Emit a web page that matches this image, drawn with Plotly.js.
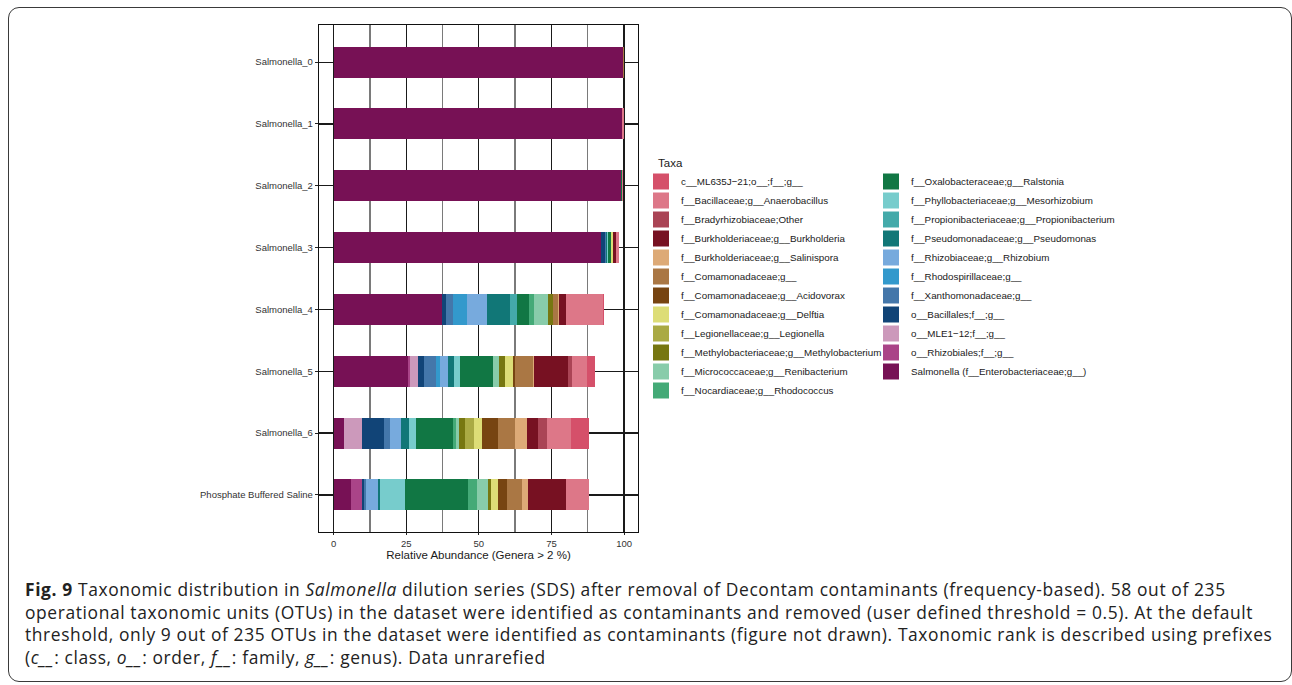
<!DOCTYPE html>
<html>
<head>
<meta charset="utf-8">
<script src="https://cdn.plot.ly/plotly-3.0.1.min.js"></script>
<style>
  html, body { margin: 0; padding: 0; background: #ffffff; }
  #wrap { position: relative; width: 1292px; height: 685px; overflow: hidden; }
  #chart { position: absolute; left: 0; top: 0; width: 1292px; height: 685px; }
  #frame { position: absolute; left: 8px; top: 7px; width: 1284px; height: 675px;
           border: 1.5px solid #3a3a3a; border-radius: 11px; box-sizing: border-box; pointer-events: none; }
  #chart g.annotation[data-index="0"] text.annotation-text { letter-spacing: 0.62px; }
</style>
</head>
<body>
<div id="wrap">
  <div id="chart"></div>
  <div id="frame"></div>
</div>
<script>
// ---- Data ----
const categories = ['Salmonella_0', 'Salmonella_1', 'Salmonella_2', 'Salmonella_3',
                    'Salmonella_4', 'Salmonella_5', 'Salmonella_6', 'Phosphate Buffered Saline'];

const taxa = [
  'c__ML635J\u221221;o__;f__;g__',
  'f__Bacillaceae;g__Anaerobacillus',
  'f__Bradyrhizobiaceae;Other',
  'f__Burkholderiaceae;g__Burkholderia',
  'f__Burkholderiaceae;g__Salinispora',
  'f__Comamonadaceae;g__',
  'f__Comamonadaceae;g__Acidovorax',
  'f__Comamonadaceae;g__Delftia',
  'f__Legionellaceae;g__Legionella',
  'f__Methylobacteriaceae;g__Methylobacterium',
  'f__Micrococcaceae;g__Renibacterium',
  'f__Nocardiaceae;g__Rhodococcus',
  'f__Oxalobacteraceae;g__Ralstonia',
  'f__Phyllobacteriaceae;g__Mesorhizobium',
  'f__Propionibacteriaceae;g__Propionibacterium',
  'f__Pseudomonadaceae;g__Pseudomonas',
  'f__Rhizobiaceae;g__Rhizobium',
  'f__Rhodospirillaceae;g__',
  'f__Xanthomonadaceae;g__',
  'o__Bacillales;f__;g__',
  'o__MLE1\u221212;f__;g__',
  'o__Rhizobiales;f__;g__',
  'Salmonella (f__Enterobacteriaceae;g__)'
];

const taxaColors = [
  '#D5506A', '#DD7788', '#AA4455', '#771122', '#DDAA77', '#AA7744', '#774411', '#DDDD77',
  '#AAAA44', '#777711', '#88CCAA', '#44AA77', '#117744', '#77CCCC', '#44AAAA', '#117777',
  '#77AADD', '#3399CC', '#4477AA', '#114477', '#CC99BB', '#AA4488', '#771155'
];

// relative abundance (%) per sample, in the order of `taxa`
const salmonella0 = [0, 0, 0, 0, 0, 0.4, 0, 0, 0, 0, 0, 0, 0, 0, 0, 0, 0, 0, 0, 0, 0, 0, 99.5];
const salmonella1 = [0, 0.45, 0, 0, 0, 0, 0, 0, 0, 0, 0, 0, 0, 0, 0, 0, 0, 0, 0, 0, 0, 0, 99.4];
const salmonella2 = [0, 0.5, 0, 0, 0, 0, 0, 0, 0, 0, 0, 0, 0.4, 0, 0, 0, 0, 0, 0, 0, 0, 0, 98.8];
const salmonella3 = [0, 1.26, 0, 0.8, 0, 0.23, 0, 0.46, 0, 0, 0, 0, 1.03, 0.34, 0, 0.57, 0, 0, 0.23, 1.26, 0, 0, 92.2];
const salmonella4 = [0.23, 12.84, 0, 2.41, 0.34, 1.72, 0, 0, 0, 1.83, 4.7, 1.72, 4.13, 0, 2.41, 7.91, 6.88, 4.82, 2.41, 1.38, 0, 0, 37.3];
const salmonella5 = [2.75, 5.16, 1.38, 11.7, 0.34, 6.19, 0.69, 2.75, 0, 2.06, 1.95, 0, 11.47, 2.06, 0, 2.06, 2.75, 1.38, 4.13, 2.06, 2.75, 0.69, 25.6];
const salmonella6 = [6.19, 8.26, 3.1, 3.78, 4.13, 5.85, 5.5, 2.75, 3.1, 2.06, 1.03, 1.03, 12.73, 2.41, 0, 2.75, 3.78, 0, 2.06, 7.57, 6.19, 0, 3.6];
const pbs         = [0, 7.91, 0, 13.07, 2.06, 5.16, 3.1, 2.41, 0, 1.03, 3.78, 3.1, 21.67, 8.6, 0, 0.69, 4.13, 0, 0.69, 0.69, 0, 3.78, 6.0];

const samples = [salmonella0, salmonella1, salmonella2, salmonella3, salmonella4, salmonella5, salmonella6, pbs];

const xTickVals = [0, 25, 50, 75, 100];
const xTickText = ['0', '25', '50', '75', '100'];

const captionLines = [
  '<b>Fig. 9</b> Taxonomic distribution in <i>Salmonella</i> dilution series (SDS) after removal of Decontam contaminants (frequency-based). 58 out of 235',
  'operational taxonomic units (OTUs) in the dataset were identified as contaminants and removed (user defined threshold = 0.5). At the default',
  'threshold, only 9 out of 235 OTUs in the dataset were identified as contaminants (figure not drawn). Taxonomic rank is described using prefixes',
  '(<i>c__</i>: class, <i>o__</i>: order, <i>f__</i>: family, <i>g__</i>: genus). Data unrarefied'
];

// ---- Traces: stacked from the left, Salmonella first ----
const traces = [];
for (let i = taxa.length - 1; i >= 0; i--) {
  traces.push({
    type: 'bar',
    orientation: 'h',
    name: taxa[i],
    y: categories,
    x: samples.map(s => s[i]),
    marker: { color: taxaColors[i], line: { width: 0 } },
    showlegend: false,
    hovertemplate: '%{y}<br>' + taxa[i] + ': %{x}<extra></extra>'
  });
}
// legend keys (square swatches), one per taxon
for (let i = taxa.length - 1; i >= 0; i--) {
  traces.push({
    type: 'scatter',
    mode: 'markers',
    name: taxa[i],
    x: [null],
    y: [null],
    marker: { symbol: 'square', size: 16, color: taxaColors[i], line: { width: 0 } },
    legend: i <= 11 ? 'legend' : 'legend2',
    showlegend: true,
    hoverinfo: 'skip'
  });
}

// plot area geometry helpers (pixels -> paper)
const L = 319, R = 654, T = 25, B = 153;
const W = 1292 - L - R, H = 685 - T - B;
const px = v => (v - L) / W;
const py = v => (685 - B - v) / H;

const legendFont = { family: 'Liberation Sans, Arial, sans-serif', size: 9.8, color: '#1a1a1a' };

const annotations = [{
  xref: 'paper', yref: 'paper',
  x: px(23), y: py(575),
  xanchor: 'left', yanchor: 'top',
  align: 'left', showarrow: false,
  text: captionLines.join('<br>'),
  font: { family: 'Open Sans, sans-serif', size: 17.4, color: '#222' }
}, {
  xref: 'paper', yref: 'paper',
  x: px(656), y: py(163),
  xanchor: 'left', yanchor: 'middle',
  showarrow: false, text: 'Taxa',
  font: { family: 'Liberation Sans, Arial, sans-serif', size: 11.5, color: '#1a1a1a' }
}];

const layout = {
  width: 1292,
  height: 685,
  margin: { l: L, r: R, t: T, b: B, pad: 0 },
  paper_bgcolor: '#ffffff',
  plot_bgcolor: '#ffffff',
  barmode: 'stack',
  bargap: 0.5,
  font: { family: 'Liberation Sans, Arial, sans-serif', color: '#1a1a1a' },
  showlegend: true,
  xaxis: {
    range: [-5, 104.8],
    tickvals: xTickVals,
    ticktext: xTickText,
    ticks: 'outside',
    ticklen: 2,
    tickwidth: 1,
    tickcolor: '#222',
    tickfont: { size: 9.5, color: '#333' },
    showgrid: true,
    gridcolor: '#1a1a1a',
    gridwidth: 1.2,
    minor: { tickvals: [12.5, 37.5, 62.5, 87.5], showgrid: true, gridcolor: '#7a7a7a', gridwidth: 1.5, ticks: '' },
    zeroline: false,
    showline: true,
    mirror: true,
    linecolor: '#111',
    linewidth: 1.2,
    title: { text: 'Relative Abundance (Genera > 2 %)', font: { size: 11.5, color: '#1a1a1a' }, standoff: 0 },
    fixedrange: true
  },
  yaxis: {
    type: 'category',
    categoryorder: 'array',
    categoryarray: categories,
    range: [7.6, -0.6],
    ticks: 'outside',
    ticklen: 3,
    tickwidth: 1,
    tickcolor: '#222',
    tickfont: { size: 9.5, color: '#333' },
    showgrid: true,
    gridcolor: '#1a1a1a',
    gridwidth: 1.2,
    zeroline: false,
    showline: true,
    mirror: true,
    linecolor: '#111',
    linewidth: 1.2,
    fixedrange: true
  },
  legend: {
    traceorder: 'reversed',
    x: px(641), xanchor: 'left',
    y: py(167), yanchor: 'top',
    font: legendFont,
    bgcolor: 'rgba(0,0,0,0)',
    itemclick: false, itemdoubleclick: false,
    tracegroupgap: 0
  },
  legend2: {
    traceorder: 'reversed',
    x: px(871), xanchor: 'left',
    y: py(167), yanchor: 'top',
    font: legendFont,
    bgcolor: 'rgba(0,0,0,0)',
    itemclick: false, itemdoubleclick: false,
    tracegroupgap: 0
  },
  annotations: annotations
};

Plotly.newPlot('chart', traces, layout, { displayModeBar: false, staticPlot: true });
</script>
</body>
</html>
